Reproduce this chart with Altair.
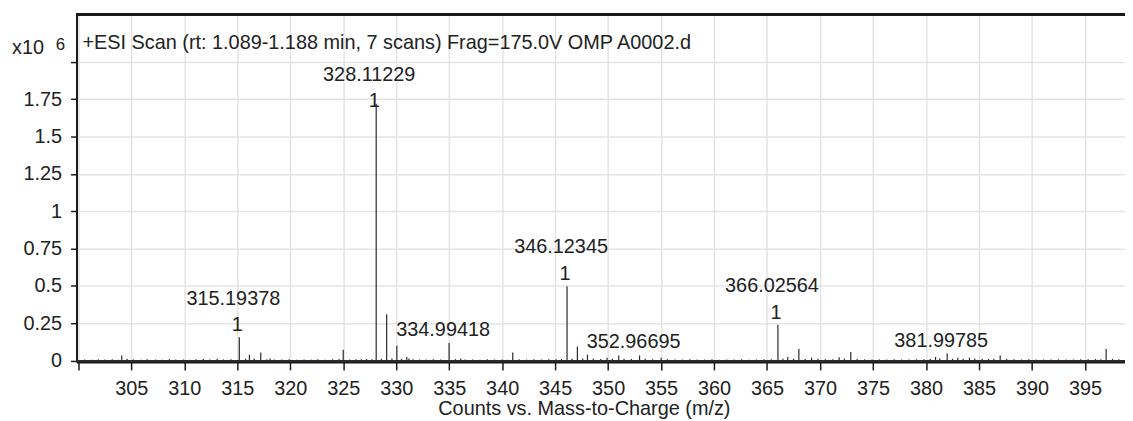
import altair as alt
import pandas as pd

# ---- data (intensity in units of 10^6 counts) ----
# labelled peaks with charge state
charged_mz = [315.19378, 346.12345, 366.02564]
charged_int = [0.156, 0.499, 0.240]
charged_z = ["1", "1", "1"]

base_mz = [328.11229]
base_int = [1.72]
base_z = ["1"]

# labelled peaks without charge label
named_mz = [334.99418, 352.96695, 381.99785]
named_int = [0.118, 0.035, 0.048]

# other visible peaks
minor_mz = [304.10, 316.15, 317.22, 318.10, 325.00, 329.10, 330.06, 331.00,
            331.20, 336.10, 341.00, 347.10, 348.05, 349.90, 351.00, 355.00,
            366.95, 368.00, 369.20, 371.80, 372.90, 380.90, 383.00, 384.10,
            387.00, 397.00]
minor_int = [0.035, 0.040, 0.055, 0.015, 0.073, 0.310, 0.100, 0.025,
             0.015, 0.015, 0.055, 0.095, 0.040, 0.020, 0.035, 0.020,
             0.025, 0.078, 0.020, 0.022, 0.058, 0.025, 0.020, 0.020,
             0.035, 0.078]

# baseline noise
noise = [(300.6, .008), (301.3, .006), (301.9, .009), (302.5, .007), (303.2, .010),
         (303.8, .006), (304.6, .012), (305.2, .008), (305.9, .006), (306.5, .009),
         (307.3, .007), (307.9, .006), (308.6, .010), (309.2, .007), (309.9, .008),
         (310.5, .006), (311.1, .009), (311.8, .011), (312.4, .007), (313.1, .012),
         (313.7, .008), (314.4, .009), (315.8, .012), (316.6, .014), (317.8, .010),
         (318.5, .008), (319.2, .007), (319.9, .009), (320.6, .006), (321.3, .008),
         (322.0, .007), (322.6, .010), (323.3, .006), (324.0, .009), (324.6, .011),
         (325.6, .008), (326.2, .010), (326.7, .009), (327.2, .011), (327.7, .010),
         (328.6, .012), (329.6, .014), (330.5, .012), (331.6, .010), (332.2, .008),
         (332.8, .007), (333.5, .009), (334.2, .008), (335.6, .010), (336.5, .007),
         (337.2, .008), (337.9, .006), (338.6, .009), (339.3, .007), (340.0, .008),
         (340.5, .006), (341.6, .009), (342.3, .007), (343.0, .010), (343.7, .008),
         (344.4, .009), (345.1, .010), (345.6, .011), (346.6, .012), (347.6, .014),
         (348.6, .012), (349.3, .011), (350.4, .013), (351.5, .012), (352.2, .011),
         (353.5, .012), (354.2, .009), (355.6, .010), (356.3, .008), (357.0, .007),
         (357.7, .009), (358.4, .008), (359.1, .007), (359.8, .009), (360.5, .006),
         (361.2, .008), (361.9, .007), (362.6, .009), (363.3, .006), (364.0, .008),
         (364.7, .010), (365.4, .009), (366.5, .012), (367.5, .013), (368.6, .011),
         (369.8, .012), (370.5, .009), (371.2, .010), (372.3, .014), (373.5, .011),
         (374.2, .009), (374.9, .007), (375.6, .008), (376.3, .007), (377.0, .009),
         (377.7, .008), (378.4, .007), (379.1, .009), (379.8, .010), (380.4, .012),
         (381.3, .014), (382.5, .013), (383.5, .012), (384.6, .014), (385.3, .012),
         (385.9, .011), (386.4, .013), (387.6, .012), (388.3, .010), (389.0, .008),
         (389.7, .009), (390.4, .007), (391.1, .008), (391.8, .007), (392.5, .009),
         (393.2, .008), (393.9, .007), (394.6, .010), (395.3, .009), (396.0, .011),
         (396.5, .010), (397.6, .012), (398.2, .010)]

x_ticks = list(range(300, 400, 5))
y_ticks = [0, 0.25, 0.5, 0.75, 1, 1.25, 1.5, 1.75, 2]

title_text = "+ESI Scan (rt: 1.089-1.188 min, 7 scans) Frag=175.0V OMP A0002.d"
x_title = "Counts vs. Mass-to-Charge (m/z)"

# ---- tables ----
peaks = pd.DataFrame({
    "mz": charged_mz + base_mz + named_mz + minor_mz + [m for m, _ in noise],
    "int": charged_int + base_int + named_int + minor_int + [v for _, v in noise],
})
charged = pd.DataFrame({"mz": charged_mz, "int": charged_int, "z": charged_z,
                        "lab": [f"{m:.5f}" for m in charged_mz]})
base = pd.DataFrame({"mz": base_mz, "int": base_int, "z": base_z,
                     "lab": [f"{m:.5f}" for m in base_mz]})
named = pd.DataFrame({"mz": named_mz, "int": named_int,
                      "lab": [f"{m:.5f}" for m in named_mz]})

FONT = "Liberation Sans"
TXT = "#222222"

xs = alt.Scale(domain=[299.83, 398.78], nice=False, zero=False)
ys = alt.Scale(domain=[-0.0086, 2.318], nice=False, zero=False)

x_enc = alt.X("mz:Q", scale=xs, axis=alt.Axis(
    values=x_ticks, title=x_title,
    labelExpr="datum.value == 300 ? '' : datum.label",
    grid=True, gridColor="#e4e4e4", gridWidth=1.5,
    domainColor="#1a1a1a", domainWidth=2,
    tickColor="#1a1a1a", tickSize=8, tickWidth=1.5,
    labelPadding=9, labelFontSize=20, labelFont=FONT, labelColor=TXT,
    titleFontSize=20, titleFont=FONT, titleColor=TXT, titleFontWeight="normal",
    titleX=511, titleY=53, titleBaseline="alphabetic", titleAlign="center",
))
y_enc = alt.Y("int:Q", scale=ys, axis=alt.Axis(
    values=y_ticks, title=None,
    labelExpr="datum.value >= 2 ? '' : format(datum.value, '~g')",
    grid=True, gridColor="#e4e4e4", gridWidth=1.5,
    domainColor="#1a1a1a", domainWidth=2,
    tickColor="#1a1a1a", tickSize=6, tickWidth=1.5,
    labelPadding=9, labelFontSize=20, labelFont=FONT, labelColor=TXT,
    labelBaseline="middle",
))

sticks = alt.Chart(peaks).mark_rule(color="#2a2a2a", strokeWidth=1.2).encode(
    x=x_enc, y=y_enc, y2=alt.datum(0))

zero_line = alt.Chart(peaks).mark_rule(color="#2a2a2a", strokeWidth=1.5).encode(
    y=alt.datum(0))

txt = dict(font=FONT, fontSize=20, color=TXT, baseline="middle", align="center")

ch_lab = alt.Chart(charged).mark_text(dx=-6, dy=-39, **txt).encode(
    x="mz:Q", y="int:Q", text="lab:N")
ch_z = alt.Chart(charged).mark_text(dx=-2, dy=-12, **txt).encode(
    x="mz:Q", y="int:Q", text="z:N")
b_lab = alt.Chart(base).mark_text(dx=-7, dy=-29, **txt).encode(
    x="mz:Q", y="int:Q", text="lab:N")
b_z = alt.Chart(base).mark_text(dx=-2, dy=-3, **txt).encode(
    x="mz:Q", y="int:Q", text="z:N")
n_lab = alt.Chart(named).mark_text(dx=-6, dy=-13, **txt).encode(
    x="mz:Q", y="int:Q", text="lab:N")

top_border = alt.Chart(peaks).mark_rule(color="#1a1a1a", strokeWidth=2).encode(
    y=alt.value(0))

title_mark = alt.Chart(pd.DataFrame({"t": [title_text]})).mark_text(
    font=FONT, fontSize=20, color=TXT, align="left", baseline="alphabetic"
).encode(x=alt.value(6), y=alt.value(35), text="t:N")

x10 = alt.Chart(pd.DataFrame({"t": ["x10"]})).mark_text(
    font=FONT, fontSize=20, color=TXT, align="left", baseline="alphabetic"
).encode(x=alt.value(-65), y=alt.value(40), text="t:N")
exp6 = alt.Chart(pd.DataFrame({"t": ["6"]})).mark_text(
    font=FONT, fontSize=17, color=TXT, align="left", baseline="alphabetic"
).encode(x=alt.value(-21), y=alt.value(35.5), text="t:N")

chart = alt.layer(
    sticks, zero_line, ch_lab, ch_z, b_lab, b_z, n_lab,
    top_border, title_mark, x10, exp6
).properties(
    width=1056, height=350,
    autosize=alt.AutoSizeParams(type="none"),
    padding={"left": 69, "top": 5, "right": 0, "bottom": 58},
    background="white",
).configure_view(stroke=None)

chart.save("out.html", embed_options={"renderer": "svg", "actions": False})
